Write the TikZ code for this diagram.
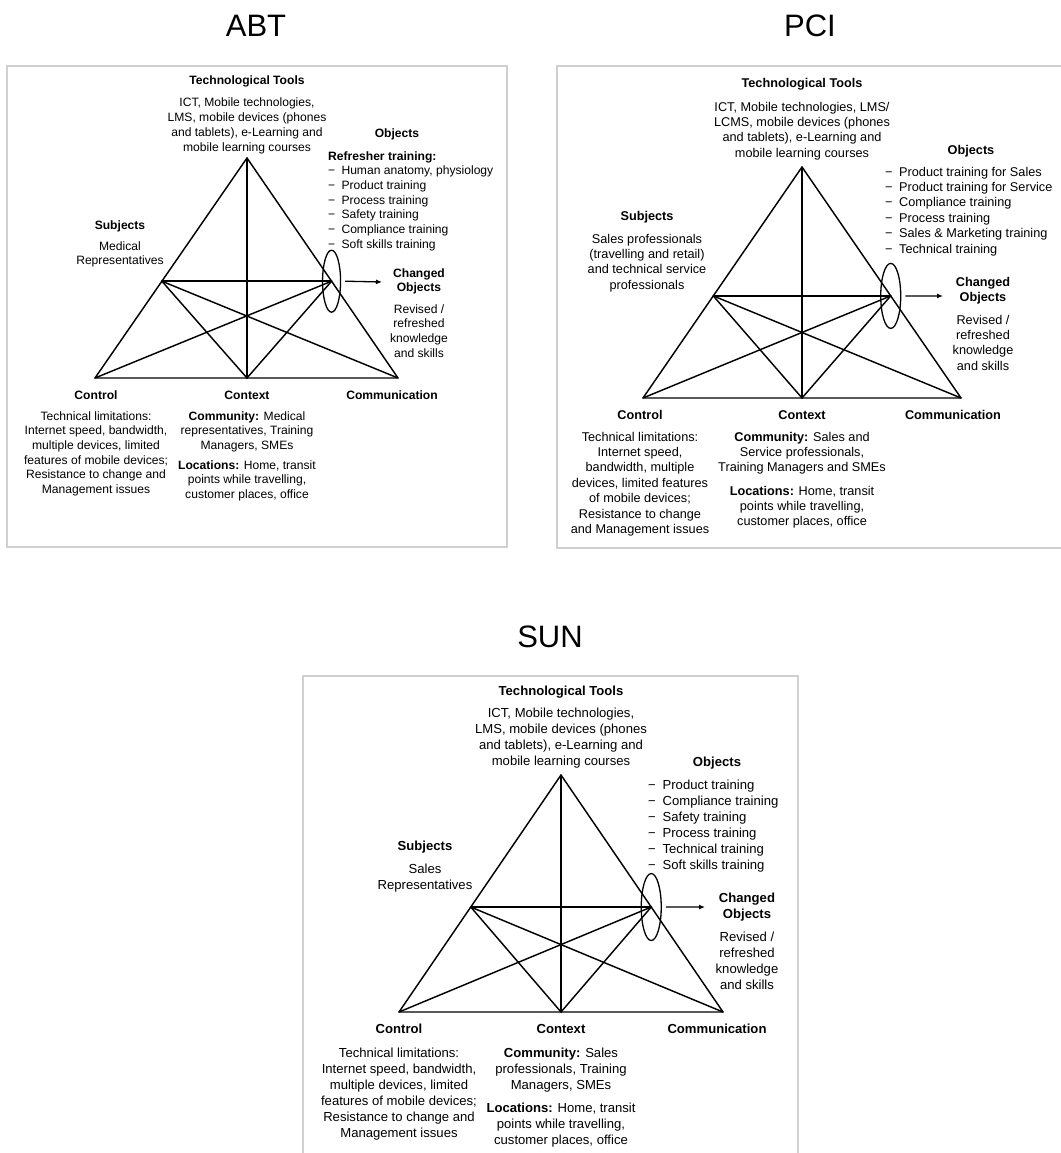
\documentclass[tikz,border=0pt]{standalone}
\usepackage{fontspec}
\setmainfont{Liberation Sans}
\usetikzlibrary{calc,arrows.meta,shapes.geometric}
\definecolor{boxgray}{HTML}{D0D0D0}
\newcommand\pfont{\fontsize{12.1}{14.7}\selectfont}
\newcommand\pskip{14.7}
\newcommand\dashitem{\makebox[1.1em][l]{\symbol{"2212}}}
\tikzset{
  frame/.style={draw=boxgray, line width=2pt},
  tri/.style={line width=1.45pt, line join=round, line cap=round},
  ring/.style={ellipse, draw, line width=1.3pt, inner sep=0pt},
  flow/.style={line width=1.3pt, -{Latex[length=6pt,width=5pt]}},
  head/.style={anchor=base, inner sep=0pt, align=center, font=\pfont\bfseries},
  body/.style={anchor=base, inner sep=0pt, align=center, font=\pfont},
  list/.style={anchor=base west, inner sep=0pt, align=left, font=\pfont},
  nl/.style={yshift={-(#1-1)*\pskip*1pt}},
  ptitle/.style={anchor=base, inner sep=0pt, font=\fontsize{31}{36}\selectfont}
}
\begin{document}
\begin{tikzpicture}[x=1pt,y=-1pt]
\useasboundingbox (0,0) rectangle (1060,1153);
\fill[white] (0,0) rectangle (1060,1153);

% ================= ABT =================
\begin{scope}
\renewcommand\pfont{\fontsize{12.1}{14.7}\selectfont}
\renewcommand\pskip{14.7}
\node[ptitle] (a-title) at (256,37) {ABT};
\draw[frame] (7,66) rectangle (507,547);
\coordinate (a-top) at (247,158);
\coordinate (a-bl) at (95,378);
\coordinate (a-bm) at (247,378);
\coordinate (a-br) at (398,378);
\coordinate (a-l) at ($(a-top)!0.56!(a-bl)$);
\coordinate (a-r) at ($(a-top)!0.56!(a-br)$);
\draw[tri] (a-top) -- (a-bl) -- (a-br) -- cycle;
\draw[tri] (a-top) -- (a-bm);
\draw[tri] (a-l) -- (a-r);
\draw[tri] (a-l) -- (a-bm);
\draw[tri] (a-l) -- (a-br);
\draw[tri] (a-r) -- (a-bm);
\draw[tri] (a-r) -- (a-bl);
\node[ring, minimum width=18pt, minimum height=62pt] (a-ell) at (a-r) {};
\coordinate (a-arr) at (382,282);
\draw[flow] ([xshift=4pt]a-ell.east |- a-r) -- (a-arr);
\node[head] (a-toolsh) at (247,85) {Technological Tools};
\node[body, nl=4] (a-tools) at (247,107) {ICT, Mobile technologies,\\LMS, mobile devices (phones\\and tablets), e-Learning and\\mobile learning courses};
\node[head] (a-objh) at (397,138) {Objects};
\node[list, nl=7] (a-obj) at (328,160) {\textbf{Refresher training:}\\\dashitem Human anatomy, physiology\\\dashitem Product training\\\dashitem Process training\\\dashitem Safety training\\\dashitem Compliance training\\\dashitem Soft skills training};
\node[head] (a-subh) at (120,229) {Subjects};
\node[body, nl=2] (a-sub) at (120,250) {Medical\\Representatives};
\node[head, nl=2] (a-chh) at (419,277) {Changed\\Objects};
\node[body, nl=4] (a-ch) at (419,313) {Revised /\\refreshed\\knowledge\\and skills};
\node[head] (a-conh) at (96,399) {Control};
\node[head] (a-ctxh) at (247,399) {Context};
\node[head] (a-comh) at (392,399) {Communication};
\node[body, nl=6] (a-con) at (96,420) {Technical limitations:\\Internet speed, bandwidth,\\multiple devices, limited\\features of mobile devices;\\Resistance to change and\\Management issues};
\node[body, nl=3] (a-cmty) at (247,420) {\textbf{Community:} Medical\\representatives, Training\\Managers, SMEs};
\node[body, nl=3] (a-loc) at (247,469) {\textbf{Locations:} Home, transit\\points while travelling,\\customer places, office};
\end{scope}

% ================= PCI =================
\begin{scope}
\renewcommand\pfont{\fontsize{12.7}{15.4}\selectfont}
\renewcommand\pskip{15.4}
\node[ptitle] (p-title) at (810,37) {PCI};
\draw[frame] (557,66) rectangle (1066,548);
\coordinate (p-top) at (802,167);
\coordinate (p-bl) at (643,398);
\coordinate (p-bm) at (802,398);
\coordinate (p-br) at (961,398);
\coordinate (p-l) at ($(p-top)!0.558!(p-bl)$);
\coordinate (p-r) at ($(p-top)!0.558!(p-br)$);
\draw[tri] (p-top) -- (p-bl) -- (p-br) -- cycle;
\draw[tri] (p-top) -- (p-bm);
\draw[tri] (p-l) -- (p-r);
\draw[tri] (p-l) -- (p-bm);
\draw[tri] (p-l) -- (p-br);
\draw[tri] (p-r) -- (p-bm);
\draw[tri] (p-r) -- (p-bl);
\node[ring, minimum width=20pt, minimum height=65pt] (p-ell) at (p-r) {};
\coordinate (p-arr) at (943,296);
\draw[flow] ([xshift=4pt]p-ell.east |- p-r) -- (p-arr);
\node[head] (p-toolsh) at (802,88) {Technological Tools};
\node[body, nl=4] (p-tools) at (802,111) {ICT, Mobile technologies, LMS/\\LCMS, mobile devices (phones\\and tablets), e-Learning and\\mobile learning courses};
\node[head] (p-objh) at (971,154) {Objects};
\node[list, nl=6] (p-obj) at (885,176) {\dashitem Product training for Sales\\\dashitem Product training for Service\\\dashitem Compliance training\\\dashitem Process training\\\dashitem Sales \& Marketing training\\\dashitem Technical training};
\node[head] (p-subh) at (647,220) {Subjects};
\node[body, nl=4] (p-sub) at (647,243) {Sales professionals\\(travelling and retail)\\and technical service\\professionals};
\node[head, nl=2] (p-chh) at (983,286) {Changed\\Objects};
\node[body, nl=4] (p-ch) at (983,324) {Revised /\\refreshed\\knowledge\\and skills};
\node[head] (p-conh) at (640,419) {Control};
\node[head] (p-ctxh) at (802,419) {Context};
\node[head] (p-comh) at (953,419) {Communication};
\node[body, nl=7] (p-con) at (640,441) {Technical limitations:\\Internet speed,\\bandwidth, multiple\\devices, limited features\\of mobile devices;\\Resistance to change\\and Management issues};
\node[body, nl=3] (p-cmty) at (802,441) {\textbf{Community:} Sales and\\Service professionals,\\Training Managers and SMEs};
\node[body, nl=3] (p-loc) at (802,495) {\textbf{Locations:} Home, transit\\points while travelling,\\customer places, office};
\end{scope}

% ================= SUN =================
\begin{scope}
\renewcommand\pfont{\fontsize{13.1}{15.9}\selectfont}
\renewcommand\pskip{15.9}
\node[ptitle] (s-title) at (550,647) {SUN};
\draw[frame] (303,676) rectangle (798,1162);
\coordinate (s-top) at (561,775);
\coordinate (s-bl) at (399,1012);
\coordinate (s-bm) at (561,1012);
\coordinate (s-br) at (723,1012);
\coordinate (s-l) at ($(s-top)!0.557!(s-bl)$);
\coordinate (s-r) at ($(s-top)!0.557!(s-br)$);
\draw[tri] (s-top) -- (s-bl) -- (s-br) -- cycle;
\draw[tri] (s-top) -- (s-bm);
\draw[tri] (s-l) -- (s-r);
\draw[tri] (s-l) -- (s-bm);
\draw[tri] (s-l) -- (s-br);
\draw[tri] (s-r) -- (s-bm);
\draw[tri] (s-r) -- (s-bl);
\node[ring, minimum width=20pt, minimum height=67pt] (s-ell) at (s-r) {};
\coordinate (s-arr) at (705,907);
\draw[flow] ([xshift=4pt]s-ell.east |- s-r) -- (s-arr);
\node[head] (s-toolsh) at (561,695.5) {Technological Tools};
\node[body, nl=4] (s-tools) at (561,717.5) {ICT, Mobile technologies,\\LMS, mobile devices (phones\\and tablets), e-Learning and\\mobile learning courses};
\node[head] (s-objh) at (717,766.5) {Objects};
\node[list, nl=6] (s-obj) at (648,789.5) {\dashitem Product training\\\dashitem Compliance training\\\dashitem Safety training\\\dashitem Process training\\\dashitem Technical training\\\dashitem Soft skills training};
\node[head] (s-subh) at (425,850.5) {Subjects};
\node[body, nl=2] (s-sub) at (425,873.5) {Sales\\Representatives};
\node[head, nl=2] (s-chh) at (747,902.5) {Changed\\Objects};
\node[body, nl=4] (s-ch) at (747,941.5) {Revised /\\refreshed\\knowledge\\and skills};
\node[head] (s-conh) at (399,1033.5) {Control};
\node[head] (s-ctxh) at (561,1033.5) {Context};
\node[head] (s-comh) at (717,1033.5) {Communication};
\node[body, nl=6] (s-con) at (399,1057.5) {Technical limitations:\\Internet speed, bandwidth,\\multiple devices, limited\\features of mobile devices;\\Resistance to change and\\Management issues};
\node[body, nl=3] (s-cmty) at (561,1057.5) {\textbf{Community:} Sales\\professionals, Training\\Managers, SMEs};
\node[body, nl=3] (s-loc) at (561,1112.5) {\textbf{Locations:} Home, transit\\points while travelling,\\customer places, office};
\end{scope}
\end{tikzpicture}
\end{document}
